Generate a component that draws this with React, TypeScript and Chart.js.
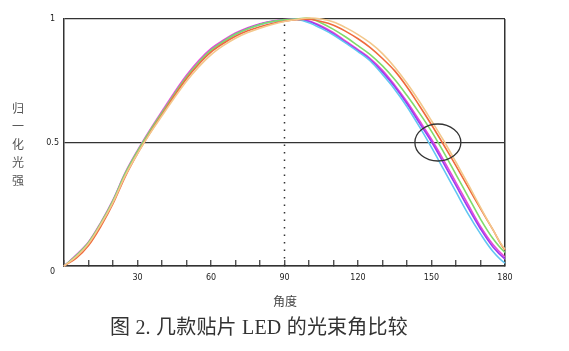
import React, { useEffect, useRef } from "react";
import { Chart, registerables } from "chart.js";

Chart.register(...registerables);

const ANGLES = [0, 5, 10, 15, 20, 25, 30, 35, 40, 45, 50, 55, 60, 65, 70, 75, 80, 85, 90, 95, 100, 105, 110, 115, 120, 125, 130, 135, 140, 145, 150, 155, 160, 165, 170, 175, 180, 183];

const BLUE = [0, 0.04, 0.092, 0.17, 0.262, 0.372, 0.462, 0.542, 0.617, 0.692, 0.762, 0.822, 0.872, 0.907, 0.937, 0.96, 0.977, 0.989, 0.996, 0.998, 0.985, 0.962, 0.935, 0.902, 0.868, 0.83, 0.775, 0.715, 0.645, 0.565, 0.48, 0.39, 0.3, 0.21, 0.13, 0.06, 0.012, 0.005];
const PURPLE = [0, 0.04, 0.092, 0.17, 0.262, 0.372, 0.462, 0.542, 0.618, 0.693, 0.763, 0.824, 0.874, 0.909, 0.939, 0.962, 0.979, 0.99, 0.997, 0.999, 0.99, 0.968, 0.94, 0.905, 0.872, 0.835, 0.785, 0.726, 0.657, 0.58, 0.503, 0.415, 0.325, 0.235, 0.15, 0.078, 0.028, 0.012];
const MAGENTA = [0, 0.045, 0.097, 0.176, 0.268, 0.378, 0.468, 0.55, 0.627, 0.702, 0.772, 0.832, 0.88, 0.914, 0.943, 0.965, 0.981, 0.992, 0.998, 1.0, 0.992, 0.972, 0.945, 0.91, 0.876, 0.84, 0.792, 0.732, 0.665, 0.59, 0.513, 0.428, 0.338, 0.248, 0.16, 0.088, 0.036, 0.018];
const GREEN = [0, 0.042, 0.095, 0.173, 0.265, 0.375, 0.465, 0.546, 0.621, 0.695, 0.765, 0.825, 0.874, 0.909, 0.939, 0.961, 0.978, 0.99, 0.997, 1.0, 1.003, 0.984, 0.958, 0.927, 0.892, 0.856, 0.81, 0.755, 0.69, 0.62, 0.545, 0.46, 0.37, 0.28, 0.19, 0.112, 0.055, 0.045];
const RED = [0, 0.032, 0.083, 0.16, 0.252, 0.362, 0.455, 0.537, 0.613, 0.688, 0.758, 0.817, 0.866, 0.901, 0.93, 0.952, 0.969, 0.982, 0.991, 0.997, 0.999, 0.99, 0.975, 0.95, 0.92, 0.884, 0.84, 0.79, 0.725, 0.65, 0.572, 0.49, 0.405, 0.318, 0.232, 0.148, 0.065, 0.058];
const TAN = [0, 0.038, 0.09, 0.168, 0.258, 0.366, 0.455, 0.535, 0.608, 0.68, 0.748, 0.806, 0.855, 0.892, 0.922, 0.945, 0.963, 0.978, 0.99, 0.998, 1.004, 1.0, 0.988, 0.965, 0.937, 0.903, 0.86, 0.805, 0.74, 0.667, 0.588, 0.507, 0.42, 0.33, 0.237, 0.148, 0.068, 0.06];

const SERIES = [
  { name: "A", values: TAN, color: "#f3c88c" },
  { name: "B", values: RED, color: "#ef6a3c" },
  { name: "C", values: GREEN, color: "#7fdc6a" },
  { name: "D", values: BLUE, color: "#62c6f2" },
  { name: "E", values: PURPLE, color: "#9a3cf0" },
  { name: "F", values: MAGENTA, color: "#e848d8" },
];

const X_TICK_LABELS = [30, 60, 90, 120, 150, 180];
const Y_TICK_LABELS: Record<string, string | string[]> = { "0": ["", "0"], "0.5": "0.5", "1": "1" };
const REF_ANGLE = 90;
const ELLIPSE_CENTER = { x: 152.6, y: 0.5 };

const AXIS = "#333";

const ellipsePlugin = {
  id: "ellipseMark",
  afterDatasetsDraw(chart: any) {
    const { ctx, scales } = chart;
    const cx = scales.x.getPixelForValue(ELLIPSE_CENTER.x);
    const cy = scales.y.getPixelForValue(ELLIPSE_CENTER.y);
    ctx.save();
    ctx.beginPath();
    ctx.ellipse(cx, cy, 23, 18.5, 0, 0, Math.PI * 2);
    ctx.strokeStyle = AXIS;
    ctx.lineWidth = 1.3;
    ctx.stroke();
    ctx.restore();
  },
};

export default function App() {
  const ref = useRef<HTMLCanvasElement | null>(null);

  useEffect(() => {
    if (!ref.current) return;
    const datasets: any[] = SERIES.map((s) => ({
      label: s.name,
      data: ANGLES.map((a, i) => ({ x: a, y: s.values[i] })),
      borderColor: s.color,
      borderWidth: 1.6,
      pointRadius: 0,
      tension: 0.35,
      clip: false,
      fill: false,
    }));
    datasets.push({
      label: "ref",
      data: [
        { x: REF_ANGLE, y: 0 },
        { x: REF_ANGLE, y: 1 },
      ],
      borderColor: AXIS,
      borderWidth: 1.5,
      borderDash: [1.5, 6],
      pointRadius: 0,
      fill: false,
    });

    const chart = new Chart(ref.current, {
      type: "line",
      data: { datasets },
      plugins: [ellipsePlugin],
      options: {
        responsive: false,
        animation: false,
        layout: { padding: { left: 0, top: 19, right: 64, bottom: 0 } },
        plugins: { legend: { display: false }, tooltip: { enabled: false }, title: { display: false } },
        scales: {
          x: {
            type: "linear",
            min: 0,
            max: 180,
            afterFit: (s: any) => {
              s.height = 85;
            },
            border: { display: true, color: AXIS, width: 1.5 },
            grid: {
              color: (c: any) => (c.tick && c.tick.value === 180 ? AXIS : "rgba(0,0,0,0)"),
              lineWidth: 1.5,
              drawTicks: true,
              tickLength: -6,
              tickColor: AXIS,
              tickWidth: 1.2,
            },
            ticks: {
              stepSize: 10,
              autoSkip: false,
              maxRotation: 0,
              padding: 13,
              color: "#222",
              font: { family: "DejaVu Sans", size: 8 },
              callback: (v: any) => (X_TICK_LABELS.includes(Number(v)) ? String(v) : ""),
            },
          },
          y: {
            type: "linear",
            min: 0,
            max: 1,
            afterFit: (s: any) => {
              s.width = 64;
            },
            border: { display: true, color: AXIS, width: 1.5 },
            grid: {
              color: AXIS,
              lineWidth: 1.3,
              drawTicks: false,
              tickLength: 0,
            },
            ticks: {
              stepSize: 0.5,
              padding: 5,
              crossAlign: "center",
              color: "#222",
              font: { family: "DejaVu Sans", size: 8, lineHeight: 1.5 },
              callback: (v: any) => Y_TICK_LABELS[String(v)] ?? "",
            },
          },
        },
      },
    });
    return () => chart.destroy();
  }, []);

  return (
    <div style={{ position: "absolute", left: 0, top: 0, width: 569, height: 351, background: "#fff" }}>
      <canvas ref={ref} width={569} height={351} style={{ position: "absolute", left: 0, top: 0 }} />
      <div
        style={{
          position: "absolute",
          left: 8,
          top: 99,
          width: 20,
          textAlign: "center",
          fontFamily: '"Noto Sans CJK SC", sans-serif',
          fontSize: 12,
          lineHeight: "18px",
          color: "#555",
        }}
      >
        {"归一化光强".split("").map((ch, i) => (
          <div key={i}>{ch}</div>
        ))}
      </div>
      <div
        style={{
          position: "absolute",
          left: 273,
          top: 293,
          fontFamily: '"Noto Sans CJK SC", sans-serif',
          fontSize: 12,
          lineHeight: "16px",
          color: "#444",
          whiteSpace: "nowrap",
        }}
      >
        角度
      </div>
      <div
        style={{
          position: "absolute",
          left: 110,
          top: 314,
          fontFamily: '"Liberation Serif", "Noto Sans CJK SC", serif',
          fontSize: 20,
          letterSpacing: "0.2px",
          lineHeight: "26px",
          color: "#333",
          whiteSpace: "nowrap",
        }}
      >
        图 2. 几款贴片 LED 的光束角比较
      </div>
    </div>
  );
}
